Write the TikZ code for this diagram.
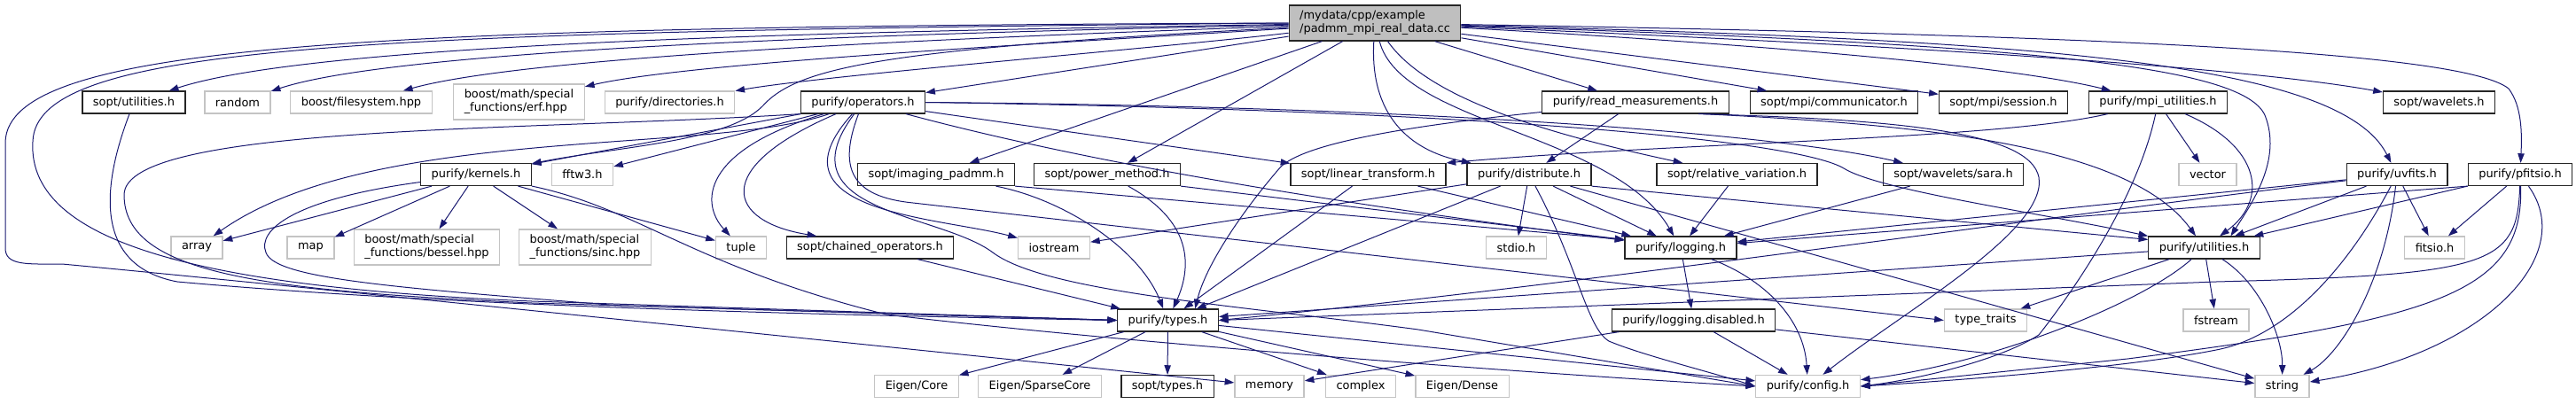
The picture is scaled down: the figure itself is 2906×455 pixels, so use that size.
\documentclass[tikz,border=0pt]{standalone}
\usepackage{fontspec}
\setmainfont{DejaVu Sans}
\usepackage{tikz}
\usetikzlibrary{arrows.meta}
\definecolor{edgeblue}{HTML}{191970}
\definecolor{extgray}{HTML}{C4C4C4}
\definecolor{rootgray}{HTML}{BFBFBF}

\begin{document}
\begin{tikzpicture}[x=0.75pt, y=-0.75pt,
    every node/.style={rectangle, font=\fontsize{9.7pt}{11.3pt}\selectfont, inner xsep=9pt, inner ysep=2pt, minimum height=18.75pt},
    filebox/.style={draw=black!85, line width=0.9pt, fill=white},
    extbox/.style={draw=extgray, line width=1pt, fill=white},
    rootbox/.style={draw=black!85, line width=0.9pt, fill=rootgray, align=left, minimum height=30pt},
    twoline/.style={align=left, minimum height=30pt},
    inc/.style={draw=edgeblue, line width=0.75pt, -{Triangle[length=8pt, width=5.5pt]}}]
    \useasboundingbox (0,0) rectangle (2906,455);

    \node[rootbox] (root) at (1551,26) {/mydata/cpp/example\\/padmm\_mpi\_real\_data.cc};

    \node[filebox] (soptutil) at (151,115.5) {sopt/utilities.h};
    \node[extbox] (random) at (268,115.5) {random};
    \node[extbox] (filesys) at (407.5,115.5) {boost/filesystem.hpp};
    \node[extbox, twoline] (erf) at (585.5,115) {boost/math/special\\\_functions/erf.hpp};
    \node[extbox] (dirs) at (755.5,115.5) {purify/directories.h};
    \node[filebox] (operators) at (973.5,115.5) {purify/operators.h};
    \node[filebox] (readmeas) at (1845,115.5) {purify/read\_measurements.h};
    \node[filebox] (comm) at (2069,115.5) {sopt/mpi/communicator.h};
    \node[filebox] (session) at (2260,115.5) {sopt/mpi/session.h};
    \node[filebox] (mpiutil) at (2434.5,115.5) {purify/mpi\_utilities.h};
    \node[filebox] (wavelets) at (2751.5,115.5) {sopt/wavelets.h};

    \node[filebox] (kernels) at (537,197) {purify/kernels.h};
    \node[extbox] (fftw) at (657,197) {fftw3.h};
    \node[filebox] (imaging) at (1056,197) {sopt/imaging\_padmm.h};
    \node[filebox] (power) at (1249,197) {sopt/power\_method.h};
    \node[filebox] (lintrans) at (1543.5,197) {sopt/linear\_transform.h};
    \node[filebox] (distrib) at (1725,197) {purify/distribute.h};
    \node[filebox] (relvar) at (1959.5,197) {sopt/relative\_variation.h};
    \node[filebox] (sara) at (2203.5,197) {sopt/wavelets/sara.h};
    \node[extbox] (vector) at (2490.5,197) {vector};
    \node[filebox] (uvfits) at (2704,197) {purify/uvfits.h};
    \node[filebox] (pfitsio) at (2843,197) {purify/pfitsio.h};

    \node[extbox] (array) at (222,279.5) {array};
    \node[extbox] (map) at (350.5,279.5) {map};
    \node[extbox, twoline] (bessel) at (481.5,279) {boost/math/special\\\_functions/bessel.hpp};
    \node[extbox, twoline] (sinc) at (660,279) {boost/math/special\\\_functions/sinc.hpp};
    \node[extbox] (tuple) at (836,279.5) {tuple};
    \node[filebox] (chained) at (981.5,279.5) {sopt/chained\_operators.h};
    \node[extbox] (iostream) at (1189,279.5) {iostream};
    \node[extbox] (stdio) at (1710.5,279.5) {stdio.h};
    \node[filebox] (logging) at (1896,279.5) {purify/logging.h};
    \node[filebox] (utils) at (2486.5,279.5) {purify/utilities.h};
    \node[extbox] (fitsio) at (2746.5,279.5) {fitsio.h};

    \node[filebox] (types) at (1317.5,361.5) {purify/types.h};
    \node[filebox] (logdis) at (1910.5,361.5) {purify/logging.disabled.h};
    \node[extbox] (typetraits) at (2240,361.5) {type\_traits};
    \node[extbox] (fstream) at (2500,361.5) {fstream};

    \node[extbox] (eigcore) at (1034,436) {Eigen/Core};
    \node[extbox] (sparse) at (1173,436) {Eigen/SparseCore};
    \node[filebox] (sopttypes) at (1317,436) {sopt/types.h};
    \node[extbox] (memory) at (1432,436) {memory};
    \node[extbox] (complex) at (1535,436) {complex};
    \node[extbox] (dense) at (1649.5,436) {Eigen/Dense};
    \node[extbox] (config) at (2039.5,436) {purify/config.h};
    \node[extbox] (string) at (2574.5,436) {string};

    \draw[inc] (root) .. controls (900,36) and (350,50) .. (soptutil);
    \draw[inc] (root) .. controls (1000,38) and (450,55) .. (random);
    \draw[inc] (root) .. controls (1100,42) and (600,62) .. (filesys);
    \draw[inc] (root) .. controls (1200,48) and (780,70) .. (erf);
    \draw[inc] (root) .. controls (1300,55) and (930,85) .. (dirs);
    \draw[inc] (root) -- (operators);
    \draw[inc] (root) .. controls (1000,55) and (900,75) .. (860,120) .. controls (820,160) and (700,165) .. (kernels);
    \draw[inc] (root) -- (imaging);
    \draw[inc] (root) -- (power);
    \draw[inc] (root) .. controls (1545,130) and (1590,170) .. (distrib);
    \draw[inc] (root) .. controls (1580,140) and (1820,150) .. (logging);
    \draw[inc] (root) .. controls (1610,110) and (1740,150) .. (relvar);
    \draw[inc] (root) -- (readmeas);
    \draw[inc] (root) -- (comm);
    \draw[inc] (root) -- (session);
    \draw[inc] (root) .. controls (1900,45) and (2250,70) .. (mpiutil);
    \draw[inc] (root) .. controls (2000,45) and (2500,70) .. (wavelets);
    \draw[inc] (root) .. controls (2300,45) and (2640,70) .. (uvfits);
    \draw[inc] (root) .. controls (2400,40) and (2780,60) .. (2830,100) .. controls (2845,120) and (2845,150) .. (pfitsio);
    \draw[inc] (root) .. controls (2300,50) and (2530,75) .. (2555,130) .. controls (2575,180) and (2540,230) .. ([xshift=-25pt]utils.north east);
    \draw[inc] (root.west) .. controls (400,36) and (40,50) .. (37,160) .. controls (30,280) and (250,325) .. (600,340) -- (types.west);
    \draw[inc] (root.west) .. controls (400,30) and (10,50) .. (6,160) -- (6,280) .. controls (6,300) and (30,298) .. (70,298) .. controls (200,310) and (700,360) .. (memory);

    \draw[inc] (soptutil) .. controls (115,210) and (105,300) .. (200,318) .. controls (500,345) and (900,355) .. (types.west);

    \draw[inc] (operators) -- (kernels);
    \draw[inc] (operators) -- (fftw);
    \draw[inc] (operators) .. controls (800,175) and (420,140) .. (array);
    \draw[inc] (operators) .. controls (790,170) and (790,230) .. (tuple);
    \draw[inc] (operators) .. controls (800,190) and (820,250) .. ([xshift=26pt]chained.north west);
    \draw[inc] (operators) .. controls (860,240) and (1060,245) .. (iostream);
    \draw[inc] (operators.south west) .. controls (600,148) and (140,140) .. (140,220) .. controls (140,310) and (300,328) .. (600,342) -- (types.west);
    \draw[inc] (operators) .. controls (880,240) and (1060,240) .. (1120,285) .. controls (1180,330) and (1400,345) .. (1600,372) -- (config.west);
    \draw[inc] (operators) .. controls (945,190) and (960,222) .. (1030,229) -- (typetraits.west);
    \draw[inc] (operators) -- (lintrans);
    \draw[inc] (operators.east) .. controls (1600,120) and (2000,150) .. (sara);
    \draw[inc] (operators.east) .. controls (1700,125) and (2030,160) .. (2080,190) .. controls (2120,215) and (2300,240) .. (utils.north west);
    \draw[inc] (operators) .. controls (1250,190) and (1550,235) .. (logging);

    \draw[inc] (kernels) -- (array);
    \draw[inc] (kernels) -- (map);
    \draw[inc] (kernels) -- (bessel);
    \draw[inc] (kernels) -- (sinc);
    \draw[inc] (kernels) -- (tuple);
    \draw[inc] (kernels) .. controls (330,225) and (290,260) .. (300,285) .. controls (310,315) and (450,325) .. (700,345) -- (types.west);
    \draw[inc] (kernels) .. controls (720,235) and (780,300) .. (1000,355) .. controls (1250,385) and (1700,420) .. (config.west);

    \draw[inc] (imaging) .. controls (1200,225) and (1285,280) .. (types);
    \draw[inc] (imaging.south east) -- ([yshift=-3pt]logging.north west);
    \draw[inc] (power) .. controls (1345,250) and (1345,300) .. (types);
    \draw[inc] (power.south east) -- ([yshift=-3pt]logging.north west);
    \draw[inc] (lintrans) -- (types);
    \draw[inc] (lintrans) -- (logging);
    \draw[inc] (chained) -- (types);

    \draw[inc] (readmeas) .. controls (1560,145) and (1470,165) .. (1445,188) .. controls (1400,240) and (1360,300) .. ([xshift=-20pt]types.north east);
    \draw[inc] (readmeas) -- (distrib);
    \draw[inc] ([xshift=-22pt]readmeas.south east) .. controls (2150,140) and (2400,160) .. (utils);
    \draw[inc] ([xshift=-26pt]readmeas.south east) .. controls (2150,135) and (2290,150) .. (2300,200) .. controls (2310,260) and (2150,350) .. (config);

    \draw[inc] (distrib) -- (iostream);
    \draw[inc] (distrib) -- (types);
    \draw[inc] (distrib) -- (stdio);
    \draw[inc] (distrib) -- (logging);
    \draw[inc] (distrib) .. controls (1780,300) and (1790,370) .. (1815,385) .. controls (1850,400) and (1930,420) .. (config.west);
    \draw[inc] (distrib.south east) -- ([yshift=-3pt]utils.north west);
    \draw[inc] (distrib) -- (string);

    \draw[inc] (relvar) -- (logging);
    \draw[inc] (sara) -- (logging);

    \draw[inc] (mpiutil) .. controls (2250,158) and (1900,160) .. (lintrans.north east);
    \draw[inc] (mpiutil) .. controls (2410,230) and (2330,340) .. (2300,378) .. controls (2250,410) and (2150,430) .. (config.east);
    \draw[inc] (mpiutil) -- (vector);
    \draw[inc] (mpiutil) .. controls (2550,165) and (2560,225) .. (utils);

    \draw[inc] (uvfits) -- (logging);
    \draw[inc] (uvfits) .. controls (2300,245) and (1800,320) .. (types.east);
    \draw[inc] (uvfits) -- (utils);
    \draw[inc] (uvfits) -- (fitsio);
    \draw[inc] (uvfits) .. controls (2690,320) and (2640,400) .. (string);
    \draw[inc] (uvfits) .. controls (2650,300) and (2580,380) .. (2500,395) .. controls (2400,415) and (2200,430) .. (config.east);

    \draw[inc] (pfitsio.south west) -- (logging);
    \draw[inc] (pfitsio.south west) -- (utils);
    \draw[inc] (pfitsio) -- (fitsio);
    \draw[inc] (pfitsio) .. controls (2910,290) and (2800,400) .. (string);
    \draw[inc] (pfitsio) .. controls (2840,300) and (2810,310) .. (2500,318) -- (types.east);
    \draw[inc] (pfitsio) .. controls (2848,330) and (2750,360) .. (2400,405) -- (config.east);

    \draw[inc] (logging) -- (logdis);
    \draw[inc] (logging) .. controls (1990,315) and (2035,360) .. (config);
    \draw[inc] (logdis) -- (memory);
    \draw[inc] (logdis) -- (config);
    \draw[inc] (logdis) -- (string);

    \draw[inc] (utils) -- (types);
    \draw[inc] (utils) -- (typetraits);
    \draw[inc] (utils) .. controls (2420,340) and (2250,410) .. (config);
    \draw[inc] (utils) -- (fstream);
    \draw[inc] (utils) .. controls (2550,320) and (2575,380) .. (string);

    \draw[inc] (types) -- (eigcore);
    \draw[inc] (types) -- (sparse);
    \draw[inc] (types) -- (sopttypes);
    \draw[inc] (types) -- (complex);
    \draw[inc] (types) -- (dense);
    \draw[inc] (types) -- (config);
\end{tikzpicture}
\end{document}
